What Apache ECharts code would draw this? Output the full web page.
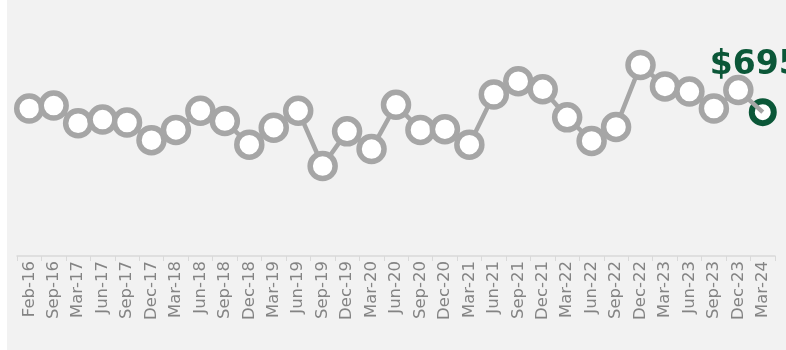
<!DOCTYPE html>
<html>
<head>
<meta charset="utf-8">
<script src="https://cdn.jsdelivr.net/npm/echarts@6/dist/echarts.min.js"></script>
<style>
html,body{margin:0;padding:0;background:#ffffff;}
#chart{position:absolute;left:7px;top:0;width:779px;height:350px;background:#f2f2f2;}
</style>
</head>
<body>
<div id="chart"></div>
<script>
const categories = ["Feb-16","Sep-16","Mar-17","Jun-17","Sep-17","Dec-17","Mar-18","Jun-18","Sep-18","Dec-18","Mar-19","Jun-19","Sep-19","Dec-19","Mar-20","Jun-20","Sep-20","Dec-20","Mar-21","Jun-21","Sep-21","Dec-21","Mar-22","Jun-22","Sep-22","Dec-22","Mar-23","Jun-23","Sep-23","Dec-23","Mar-24"];
const prices = [700,704,680,685,681,657,671,697,683,651,674,697,622,669,645,705,671,672,651,719,737,726,688,656,675,759,730,723,700,725,695];

const lastIdx = prices.length - 1;
const lineData = prices.map((v, i) => i === lastIdx ? { value: v, symbol: 'none' } : v);
const lastData = prices.map((v, i) => i === lastIdx ? v : null);

const chart = echarts.init(document.getElementById('chart'), null, { renderer: 'canvas' });
chart.setOption({
  animation: false,
  backgroundColor: '#f2f2f2',
  grid: { left: 10, right: 11, top: 20, bottom: 94 },
  xAxis: {
    type: 'category',
    data: categories,
    boundaryGap: true,
    axisLine: { show: true, lineStyle: { color: '#d9d9d9', width: 1.5 } },
    axisTick: { show: true, alignWithLabel: false, length: 5, lineStyle: { color: '#d9d9d9', width: 1 } },
    axisLabel: {
      interval: 0, rotate: 90, margin: 5,
      color: '#848484', fontSize: 16.5, fontWeight: 'normal', fontFamily: 'DejaVu Sans'
    },
    splitLine: { show: false }
  },
  yAxis: {
    type: 'value', min: 500, max: 820, show: false,
    splitLine: { show: false }
  },
  series: [
    {
      type: 'line',
      data: lineData,
      z: 3,
      symbol: 'circle',
      symbolSize: 25,
      lineStyle: { color: '#a6a6a6', width: 4.5 },
      itemStyle: { color: '#ffffff', borderColor: '#a6a6a6', borderWidth: 5.5 }
    },
    {
      type: 'scatter',
      data: lastData,
      z: 2,
      symbol: 'circle',
      symbolSize: 22,
      itemStyle: { color: '#ffffff', borderColor: '#0b5738', borderWidth: 6, opacity: 1 },
      label: {
        show: true,
        position: 'inside',
        align: 'left',
        verticalAlign: 'bottom',
        offset: [-53, -30],
        formatter: p => '$' + p.value,
        color: '#0b5738',
        fontSize: 33,
        fontWeight: 'bold',
        fontFamily: 'DejaVu Sans'
      }
    }
  ]
});
</script>
</body>
</html>
